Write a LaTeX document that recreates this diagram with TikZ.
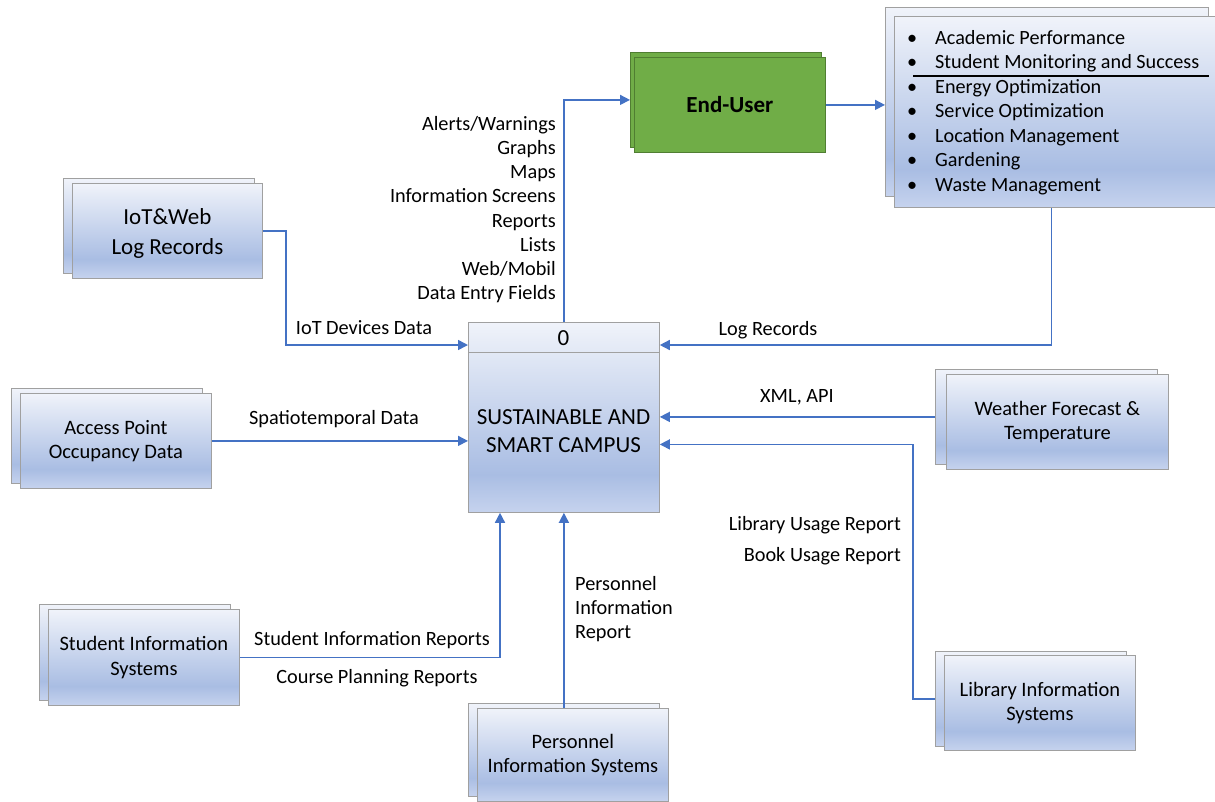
\documentclass[tikz,border=0pt]{standalone}
\usepackage{fontspec}
\setmainfont{Carlito}
\usetikzlibrary{arrows.meta,calc}
\definecolor{flow}{HTML}{4472C4}
\definecolor{boxtop}{HTML}{F0F3FA}
\definecolor{boxmid}{HTML}{A9BDE3}
\definecolor{boxbot}{HTML}{C6D3EE}
\definecolor{boxline}{HTML}{A0A0A0}
\definecolor{eugreen}{HTML}{70AD47}
\definecolor{eugreenline}{HTML}{507E32}
\pgfdeclareverticalshading{boxshade}{100bp}{color(0bp)=(boxbot); color(25bp)=(boxbot); color(35bp)=(boxmid); color(75bp)=(boxtop); color(100bp)=(boxtop)}
\tikzset{
  sz/.style 2 args={minimum width=#1pt, minimum height=#2pt},
  sbox/.style={rectangle, draw=boxline, line width=0.8pt, shading=boxshade, inner sep=0pt, anchor=north west, align=center, font=\fontsize{20.5}{24.5}\selectfont},
  gbox/.style={rectangle, draw=eugreenline, line width=0.8pt, fill=eugreen, inner sep=0pt, anchor=north west, align=center, font=\fontsize{23}{28}\selectfont\bfseries},
  flowline/.style={draw=flow, line width=1.5pt, -{Triangle[length=10pt,width=10pt]}},
  lbl/.style={inner sep=0pt, font=\fontsize{20.3}{24.5}\selectfont},
  item/.style={inner sep=0pt, anchor=base west, font=\fontsize{20.2}{24.5}\selectfont},
}
\newcommand{\bul}{\llap{\textbullet\hspace{18pt}}}
\begin{document}
\begin{tikzpicture}[x=1pt,y=-1pt]
\useasboundingbox (0,0) rectangle (1215,801);

% IoT & Web
\node[sbox, sz={191}{95}] (iotB) at (63,178) {};
\node[sbox, sz={190}{95}, font=\fontsize{23}{30}\selectfont] (iot) at (72,183) {\rule{0pt}{22pt}IoT\&Web\\Log Records};
% Access point
\node[sbox, sz={191}{95}] (apB) at (11,388) {};
\node[sbox, sz={191}{95}] (ap) at (20,393) {Access Point\\Occupancy Data};
% Student IS
\node[sbox, sz={191}{96}] (sisB) at (39,604) {};
\node[sbox, sz={191}{96}] (sis) at (48,609) {Student Information\\Systems};
% Personnel IS
\node[sbox, sz={191}{93}] (pisB) at (468,703) {};
\node[sbox, sz={191}{93}] (pis) at (477,708) {Personnel\\Information Systems};
% Weather
\node[sbox, sz={222}{95}] (wxB) at (935,369) {};
\node[sbox, sz={222}{95}] (wx) at (946,374) {Weather Forecast \&\\Temperature};
% Library
\node[sbox, sz={191}{95}] (libB) at (935,651) {};
\node[sbox, sz={191}{95}] (lib) at (944,655) {Library Information\\Systems};
% End user
\node[gbox, sz={191}{95}] (euB) at (630,52) {};
\node[gbox, sz={191}{95}] (eu) at (634,57) {End-User};
% Output list
\node[sbox, sz={323}{189}] (listB) at (885,7) {};
\node[sbox, sz={330}{191}] (list) at (894,16) {};
\node[item] (li1) at (935,44) {\bul Academic Performance};
\node[item] (li2) at (935,68.5) {\bul Student Monitoring and Success};
\node[item] (li3) at (935,93) {\bul Energy Optimization};
\node[item] (li4) at (935,117.5) {\bul Service Optimization};
\node[item] (li5) at (935,142) {\bul Location Management};
\node[item] (li6) at (935,166.5) {\bul Gardening};
\node[item] (li7) at (935,191) {\bul Waste Management};
\draw[black, line width=1.4pt] (913,76) -- (1209,76);

% Main process
\node[sbox, sz={191}{190}] (main) at (468,322) {};
\draw[boxline, line width=0.8pt] ($(main.north west)+(0,30)$) -- ($(main.north east)+(0,30)$);
\node[inner sep=0pt, anchor=base, font=\fontsize{23}{28}\selectfont] (num) at (563.5,345) {0};
\node[inner sep=0pt, align=center, font=\fontsize{23}{28.7}\selectfont] (title) at (563.5,431) {SUSTAINABLE AND\\SMART CAMPUS};

% Connectors
\draw[flowline] (iot.east) -- ++(23,0) |- ($(main.north west)+(0,23)$);
\draw[flowline] (ap.east) -- (ap.east -| main.west);
\draw[flowline] (sis.east) -| ($(main.south west)+(32,0)$);
\draw[flowline] (pis.north -| main.south) -- (main.south);
\draw[flowline] (libB.west) -- ++(-22,0) |- ($(main.east)+(0,27)$);
\draw[flowline] (wxB.west) -- (wxB.west -| main.east);
\draw[flowline] ($(list.south)+(-8,0)$) |- ($(main.north east)+(0,23)$);
\draw[flowline] (main.north) |- (euB.west);
\draw[flowline] (eu.east) -- (eu.east -| listB.west);

% Labels
\node[lbl, anchor=base] (lIoT) at (364,334.5) {IoT Devices Data};
\node[lbl, anchor=base] (lSp) at (334,424.5) {Spatiotemporal Data};
\node[lbl, anchor=base] (lSIR) at (372,645.5) {Student Information Reports};
\node[lbl, anchor=base] (lCPR) at (377,683.5) {Course Planning Reports};
\node[lbl, anchor=base west] (lP1) at (575,590.5) {Personnel};
\node[lbl, anchor=base west] (lP2) at (575,614.5) {Information};
\node[lbl, anchor=base west] (lP3) at (575,638) {Report};
\node[lbl, anchor=base east] (lLib) at (901,530.5) {Library Usage Report};
\node[lbl, anchor=base east] (lBook) at (901,561.5) {Book Usage Report};
\node[lbl, anchor=base] (lXML) at (797,402) {XML, API};
\node[lbl, anchor=base] (lLog) at (768,335) {Log Records};
\node[lbl, anchor=base east] (o1) at (556,130.5) {Alerts/Warnings};
\node[lbl, anchor=base east] (o2) at (556,154.6) {Graphs};
\node[lbl, anchor=base east] (o3) at (556,178.8) {Maps};
\node[lbl, anchor=base east] (o4) at (556,202.9) {Information Screens};
\node[lbl, anchor=base east] (o5) at (556,227) {Reports};
\node[lbl, anchor=base east] (o6) at (556,251.2) {Lists};
\node[lbl, anchor=base east] (o7) at (556,275.3) {Web/Mobil};
\node[lbl, anchor=base east] (o8) at (556,299.5) {Data Entry Fields};
\end{tikzpicture}
\end{document}
